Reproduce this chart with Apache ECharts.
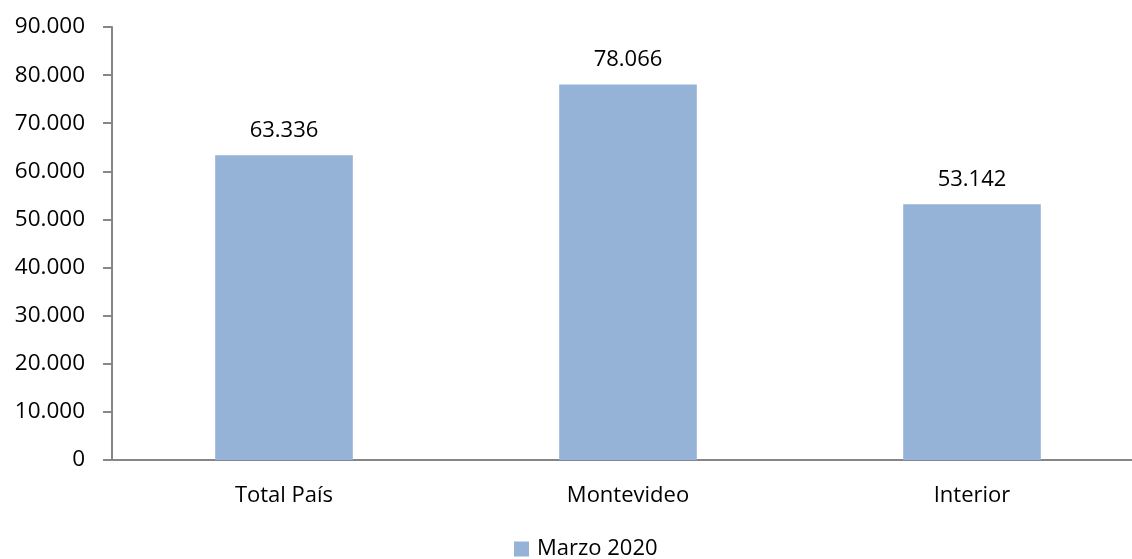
<!DOCTYPE html>
<html><head><meta charset="utf-8">
<script src="https://cdn.jsdelivr.net/npm/echarts@6/dist/echarts.min.js"></script>
<style>html,body{margin:0;padding:0;background:#fff}#c{width:1132px;height:559px}</style>
</head><body><div id="c"></div>
<script>
const categories = ['Total País', 'Montevideo', 'Interior'];
const seriesName = 'Marzo 2020';
const values = [63336, 78066, 53142];
const yMin = 0, yMax = 90000, yStep = 10000;

const fmt = v => String(Math.round(v)).replace(/\B(?=(\d{3})+(?!\d))/g, '.');
const FONT = '"Open Sans", sans-serif';
const chart = echarts.init(document.getElementById('c'), null, {renderer: 'canvas'});
chart.setOption({
  animation: false,
  backgroundColor: '#fff',
  textStyle: {fontFamily: FONT},
  grid: {left: 112, right: -12, top: 27, bottom: 99, containLabel: false, outerBoundsMode: 'none'},
  legend: {
    bottom: -1, left: 514, padding: 0, itemWidth: 15, itemHeight: 15, itemGap: 10,
    icon: 'rect',
    textStyle: {fontFamily: FONT, fontSize: 22, color: '#000', padding: [0, 0, 0, 3]},
    data: [seriesName]
  },
  xAxis: {
    type: 'category', data: categories,
    axisLine: {lineStyle: {color: '#868686', width: 2}},
    axisTick: {show: false},
    axisLabel: {fontFamily: FONT, fontSize: 22, color: '#000', margin: 25}
  },
  yAxis: {
    type: 'value', min: yMin, max: yMax, interval: yStep,
    axisLine: {show: true, lineStyle: {color: '#868686', width: 2}},
    axisTick: {show: true, length: 9, lineStyle: {color: '#868686', width: 2}},
    splitLine: {show: false},
    axisLabel: {fontFamily: FONT, fontSize: 22.5, color: '#000', margin: 27, formatter: fmt}
  },
  series: [{
    name: seriesName, type: 'bar', data: values, barWidth: '40%',
    itemStyle: {color: '#95B3D7'},
    label: {show: true, position: 'top', distance: 14, fontFamily: FONT, fontSize: 22, color: '#000', formatter: p => fmt(p.value)}
  }]
});
</script></body></html>
